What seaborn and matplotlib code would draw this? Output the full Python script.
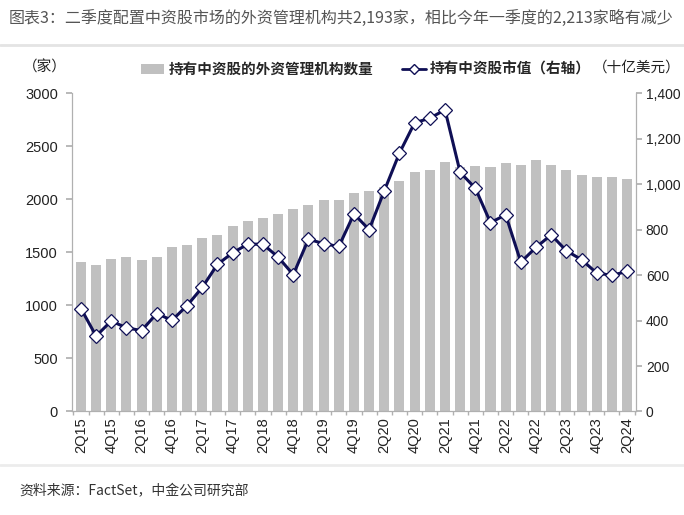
import numpy as np
import pandas as pd
import matplotlib
matplotlib.use("Agg")
import matplotlib.pyplot as plt
import seaborn as sns
from matplotlib.lines import Line2D
from matplotlib.patches import Patch
from matplotlib.ticker import FuncFormatter, FixedLocator

quarters = [
    "2Q15", "3Q15", "4Q15", "1Q16", "2Q16", "3Q16", "4Q16", "1Q17", "2Q17", "3Q17",
    "4Q17", "1Q18", "2Q18", "3Q18", "4Q18", "1Q19", "2Q19", "3Q19", "4Q19", "1Q20",
    "2Q20", "3Q20", "4Q20", "1Q21", "2Q21", "3Q21", "4Q21", "1Q22", "2Q22", "3Q22",
    "4Q22", "1Q23", "2Q23", "3Q23", "4Q23", "1Q24", "2Q24",
]
managers = [
    1410, 1380, 1440, 1455, 1432, 1460, 1546, 1565, 1631, 1659,
    1744, 1791, 1824, 1857, 1910, 1944, 1990, 1992, 2063, 2076,
    2115, 2173, 2258, 2277, 2352, 2300, 2310, 2305, 2342, 2326,
    2372, 2323, 2280, 2230, 2213, 2213, 2193,
]
market_value = [
    453, 332, 398, 368, 356, 431, 401, 466, 546, 647,
    698, 736, 736, 679, 602, 758, 738, 726, 869, 800,
    971, 1137, 1270, 1290, 1327, 1052, 982, 831, 865, 657,
    722, 777, 707, 668, 609, 599, 616,
]
left_ticks = [0, 500, 1000, 1500, 2000, 2500, 3000]
right_ticks = [0, 200, 400, 600, 800, 1000, 1200, 1400]

title = "图表3：二季度配置中资股市场的外资管理机构共2,193家，相比今年一季度的2,213家略有减少"
bar_label = "持有中资股的外资管理机构数量"
line_label = "持有中资股市值（右轴）"
source = "资料来源：FactSet，中金公司研究部"

sns.set_theme(style="white")
plt.rcParams["font.family"] = ["Liberation Sans", "Noto Sans CJK SC", "DejaVu Sans"]
cjk = ["Noto Sans CJK SC", "DejaVu Sans"]

df = pd.DataFrame({"quarter": quarters, "managers": managers, "value": market_value})
df["pos"] = np.arange(len(df))

fig = plt.figure(figsize=(6.84, 5.15), dpi=100)
ax = fig.add_axes([0.105, 0.201, 0.825, 0.618])

bar_color = "#c0c0c0"
line_color = "#0f0f55"
axis_color = "#b0b0b0"

sns.barplot(data=df, x="quarter", y="managers", color=bar_color, width=0.66,
            saturation=1, ax=ax, edgecolor="none")
ax.set_ylim(0, 3000)
ax.set_xlim(-0.6, len(quarters) - 0.4)
ax.set_yticks(left_ticks)
ax.set_xlabel("")
ax.set_ylabel("")

ax2 = ax.twinx()
sns.lineplot(data=df, x="pos", y="value", ax=ax2, color=line_color, linewidth=2.2,
             marker="D", markersize=6.8, markerfacecolor="white",
             markeredgecolor=line_color, markeredgewidth=0.9)
ax2.set_ylim(0, 1400)
ax2.set_yticks(right_ticks)
ax2.yaxis.set_major_formatter(FuncFormatter(lambda v, p: f"{int(v):,}"))
ax2.set_xlabel("")
ax2.set_ylabel("")
ax2.set_xlim(-0.6, len(quarters) - 0.4)

for a in (ax, ax2):
    a.spines["top"].set_visible(False)
    for s in ["left", "right", "bottom"]:
        a.spines[s].set_color(axis_color)
        a.spines[s].set_linewidth(0.9)
    a.grid(False)

ax.spines["right"].set_visible(False)
ax2.spines["left"].set_visible(False)
ax2.spines["bottom"].set_visible(False)

ax.set_xticks(np.arange(0, len(quarters), 2))
ax.set_xticklabels(quarters[::2], rotation=90, fontsize=10.5, color="#222222")
ax.xaxis.set_minor_locator(FixedLocator(np.arange(-0.5, len(quarters), 1)))
ax.tick_params(axis="x", which="major", length=0, pad=4)
ax.tick_params(axis="x", which="minor", length=3, color=axis_color, bottom=True)
ax.tick_params(axis="y", length=4, color=axis_color, labelsize=10.5, labelcolor="#222222",
               left=True, pad=6)
ax2.tick_params(axis="y", length=4, color=axis_color, labelsize=10, labelcolor="#222222",
                right=True, pad=3)

fig.text(0.012, 0.965, title, fontsize=11.5, color="#555555", ha="left", va="center",
         family=cjk)
# decorative separators
fig.add_artist(Line2D([0.0, 1.0], [0.912, 0.912], color="#e4e4e4", linewidth=2.0))
fig.add_artist(Line2D([0.0, 1.0], [0.098, 0.098], color="#ececec", linewidth=2.0))

fig.text(0.033, 0.868, "（家）", fontsize=10.5, color="#222222", ha="left", va="center",
         family=cjk)
fig.text(0.995, 0.868, "（十亿美元）", fontsize=10.5, color="#222222", ha="right", va="center",
         family=cjk)

handles = [
    Patch(facecolor=bar_color, edgecolor="none", label=bar_label),
    Line2D([0], [0], color=line_color, linewidth=2, marker="D", markersize=5,
           markerfacecolor="white", markeredgecolor=line_color, label=line_label),
]
fig.legend(handles=handles, loc="center", bbox_to_anchor=(0.535, 0.866), ncol=2,
           frameon=False, handlelength=1.6, handletextpad=0.3, columnspacing=2.0,
           prop={"family": cjk, "weight": "bold", "size": 10.5})

fig.text(0.028, 0.047, source, fontsize=10, color="#333333", ha="left", va="center",
         family=cjk)

fig.savefig("out.png", dpi=100, facecolor="white")
